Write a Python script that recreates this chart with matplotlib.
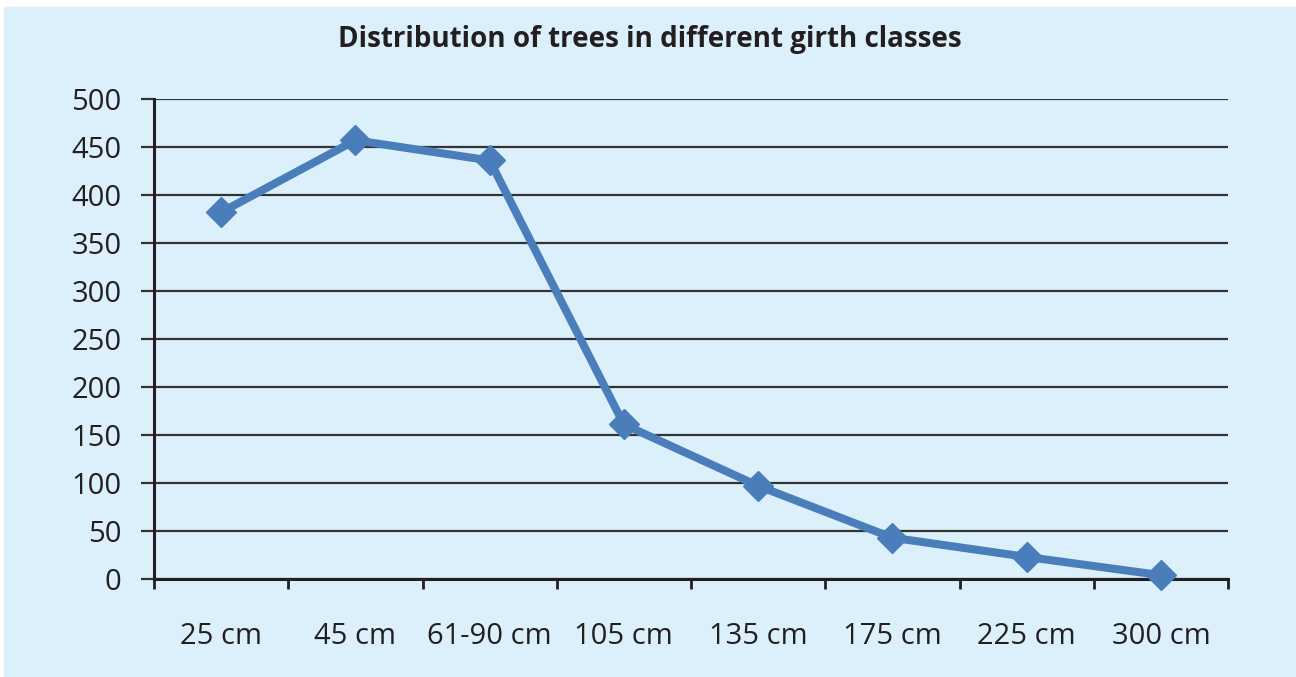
import matplotlib
matplotlib.use("Agg")
import matplotlib.pyplot as plt
import matplotlib.patches as mpatches

girth_classes = ["25 cm", "45 cm", "61-90 cm", "105 cm", "135 cm", "175 cm", "225 cm", "300 cm"]
tree_counts = [382, 457, 436, 161, 97, 43, 23, 4]
y_ticks = [0, 50, 100, 150, 200, 250, 300, 350, 400, 450, 500]

plt.rcParams['font.family'] = ['Open Sans', 'DejaVu Sans']

bg = "#dbf0fb"
dark = "#231f20"

fig = plt.figure(figsize=(12.96, 6.77), dpi=100)
fig.patch.set_facecolor("white")
# light blue panel with a thin white margin at top/left
fig.patches.append(mpatches.Rectangle((4 / 1296, 0), 1, 1 - 7 / 677,
                                      transform=fig.transFigure, color=bg, zorder=-5))

ax = fig.add_axes([154 / 1296, 1 - 579 / 677, 1074 / 1296, 480 / 677])
ax.set_zorder(2)
ax.set_facecolor(bg)

x = list(range(len(girth_classes)))
ax.plot(x, tree_counts, color="#4a7ebb", lw=5.8, marker="D", markersize=15,
        zorder=3, clip_on=False)

ax.set_xlim(-0.5, len(girth_classes) - 0.5)
ax.set_ylim(0, 500)
ax.set_yticks(y_ticks)
ax.set_yticklabels([str(v) for v in y_ticks], fontsize=21, color=dark)
ax.grid(axis="y", color="#333333", lw=1.6, zorder=1)
ax.set_axisbelow(True)

ax.set_xticks(x)
ax.set_xticklabels(girth_classes, fontsize=21, color=dark)
ax.tick_params(axis="x", which="major", length=0, pad=31)
ax.set_xticks([i - 0.5 for i in range(len(girth_classes) + 1)], minor=True)
ax.tick_params(axis="x", which="minor", length=7, width=2, color=dark)
ax.tick_params(axis="y", length=9.4, width=1.6, color="#333333", pad=14)

for side in ["top", "right"]:
    ax.spines[side].set_visible(False)
for side in ["left", "bottom"]:
    ax.spines[side].set_linewidth(2.2)
    ax.spines[side].set_color(dark)

fig.text(650 / 1296, 1 - 40 / 677, "Distribution of trees in different girth classes",
         ha="center", va="center", fontsize=20, fontweight="bold", color=dark)

fig.savefig("out.png", dpi=100, facecolor=fig.get_facecolor())
